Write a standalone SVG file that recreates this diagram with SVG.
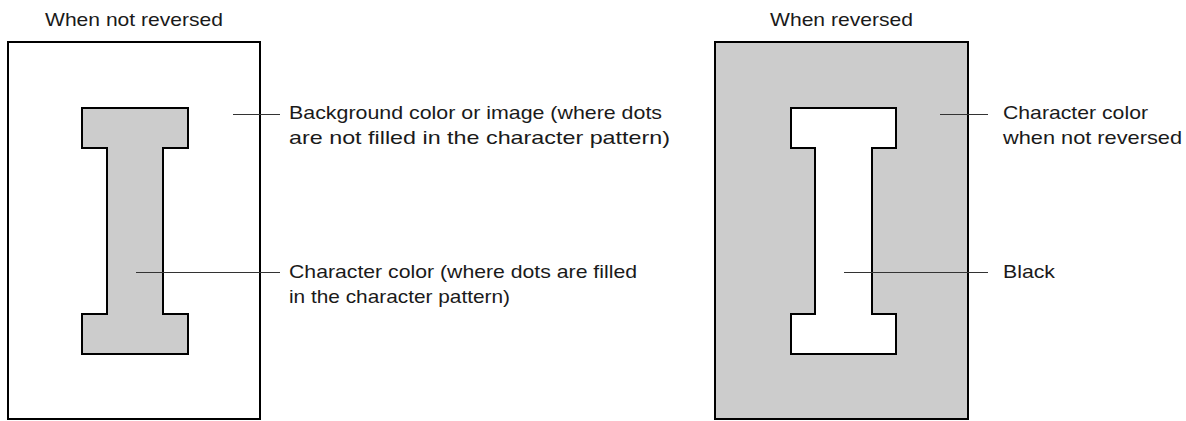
<svg xmlns="http://www.w3.org/2000/svg" width="1186" height="421" viewBox="0 0 1186 421">
<style>
.t{font-family:"Liberation Sans",Arial,sans-serif;font-size:19px;fill:#1a1a1a}
.frame{stroke:#000;stroke-width:2}
.glyph{stroke:#000;stroke-width:2;stroke-linejoin:miter}
.lead{stroke:#333;stroke-width:1;fill:none}
</style>
<rect width="1186" height="421" fill="#fff"/>
<g id="title-left"><text class="t" x="45" y="26" textLength="178" lengthAdjust="spacingAndGlyphs">When not reversed</text></g>
<g id="title-right"><text class="t" x="770" y="26" textLength="143" lengthAdjust="spacingAndGlyphs">When reversed</text></g>
<g id="frame-left">
<rect class="frame" x="8" y="42" width="252" height="377" fill="#fff"/>
<path class="glyph" fill="#ccc" d="M82,108 H188 V148 H163 V314 H188 V354 H82 V314 H107 V148 H82 Z"/>
</g>
<g id="frame-right">
<rect class="frame" x="715" y="42" width="253" height="377" fill="#ccc"/>
<path class="glyph" fill="#fff" d="M791,108 H896 V148 H872 V314 H896 V354 H791 V314 H815 V148 H791 Z"/>
</g>
<g id="connectors">
<line class="lead" x1="233" y1="114.5" x2="280" y2="114.5"/>
<line class="lead" x1="136" y1="272.5" x2="280" y2="272.5"/>
<line class="lead" x1="940" y1="114.5" x2="988" y2="114.5"/>
<line class="lead" x1="844" y1="272.5" x2="988" y2="272.5"/>
</g>
<g id="label-background">
<text class="t" x="289" y="119" textLength="373" lengthAdjust="spacingAndGlyphs">Background color or image (where dots</text>
<text class="t" x="289" y="144" textLength="381" lengthAdjust="spacingAndGlyphs">are not filled in the character pattern)</text>
</g>
<g id="label-character">
<text class="t" x="289" y="278" textLength="348" lengthAdjust="spacingAndGlyphs">Character color (where dots are filled</text>
<text class="t" x="289" y="303" textLength="221" lengthAdjust="spacingAndGlyphs">in the character pattern)</text>
</g>
<g id="label-charcolor">
<text class="t" x="1003" y="119" textLength="145" lengthAdjust="spacingAndGlyphs">Character color</text>
<text class="t" x="1003" y="144" textLength="179" lengthAdjust="spacingAndGlyphs">when not reversed</text>
</g>
<g id="label-black"><text class="t" x="1003" y="278" textLength="52" lengthAdjust="spacingAndGlyphs">Black</text></g>
</svg>
